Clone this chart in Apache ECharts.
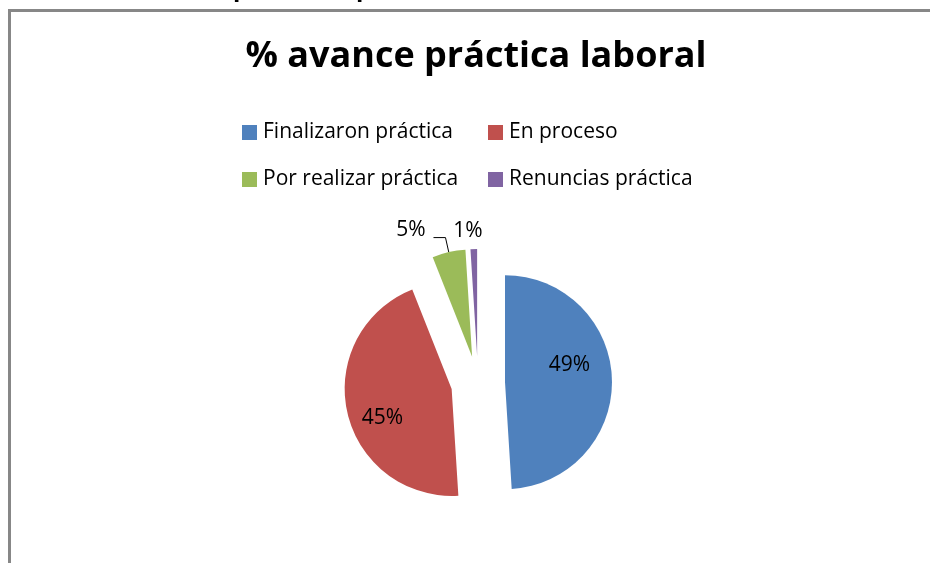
<!DOCTYPE html>
<html>
<head>
<meta charset="utf-8">
<script src="https://cdn.jsdelivr.net/npm/echarts@6/dist/echarts.min.js"></script>
<style>html,body{margin:0;padding:0;background:#fff}#c{width:930px;height:563px}</style>
</head>
<body>
<div id="c"></div>
<script>
const titleText = '% avance práctica laboral';
const categories = ['Finalizaron práctica', 'En proceso', 'Por realizar práctica', 'Renuncias práctica'];
const values = [49, 45, 5, 1];
const colors = ['#4F81BD', '#C0504D', '#9BBB59', '#8064A2'];

const FONT = 'Open Sans';
const chart = echarts.init(document.getElementById('c'), null, {renderer: 'canvas'});

const legendPos = [[242, 122], [488, 122], [242, 169], [488, 169]];
const legends = categories.map((name, i) => ({
  left: legendPos[i][0], top: legendPos[i][1], padding: 0,
  data: [name], icon: 'rect', itemWidth: 15, itemHeight: 15,
  selectedMode: false,
  textStyle: {fontFamily: FONT, fontSize: 21, color: '#000', padding: [0, 0, 0, 1]}
}));

const labelPlacement = ['inside', 'inside', 'outside', 'outside'];

chart.setOption({
  animation: false,
  backgroundColor: '#fff',
  color: colors,
  title: {
    text: titleText, left: 476, top: 39, padding: 0, textAlign: 'center',
    textStyle: {fontFamily: FONT, fontWeight: 'bold', fontSize: 36, color: '#000'}
  },
  legend: legends,
  graphic: [
    {type: 'rect', shape: {x: 9.5, y: 10.5, width: 1000, height: 1000}, style: {fill: 'none', stroke: '#878787', lineWidth: 3}, silent: true},
    {type: 'text', x: 233, y: 1.5, style: {text: 'p', font: 'bold 24px "Open Sans"', fill: '#000', verticalAlign: 'bottom'}},
    {type: 'text', x: 356, y: 1.5, style: {text: 'p', font: 'bold 24px "Open Sans"', fill: '#000', verticalAlign: 'bottom'}}
  ],
  series: [{
    type: 'pie',
    center: [478, 383],
    radius: 107,
    startAngle: 90,
    clockwise: true,
    selectedMode: 'multiple',
    selectedOffset: 27,
    avoidLabelOverlap: false,
    emphasis: {disabled: true},
    itemStyle: {borderWidth: 0},
    label: {
      show: true, fontFamily: FONT, fontSize: 21, color: '#000'
    },
    labelLine: {show: true, length: 15, length2: 12, lineStyle: {color: '#000', width: 1}},
    labelLayout: function (p) {
      if (p.dataIndex === 0) return {dx: 8, dy: -15};
      if (p.dataIndex === 1) return {dx: -14, dy: 17};
      if (p.dataIndex === 2) return {dx: -3, dy: -8};
      if (p.dataIndex === 3) return {dx: 14, dy: -10};
      return {};
    },
    data: categories.map((name, i) => ({
      name: name, value: values[i], selected: true,
      label: {formatter: values[i] + '%', position: labelPlacement[i]},
      labelLine: i === 3 ? {show: false, length: 8, length2: 0} : undefined
    }))
  }]
});
</script>
</body>
</html>
